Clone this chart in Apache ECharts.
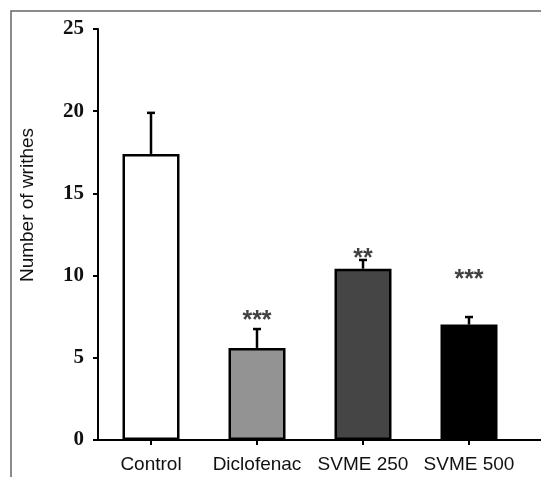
<!DOCTYPE html>
<html><head><meta charset="utf-8">
<script src="https://cdn.jsdelivr.net/npm/echarts@6/dist/echarts.min.js"></script>
<style>html,body{margin:0;padding:0;background:#fff}#c{width:541px;height:477px}</style>
</head><body><div id="c"></div>
<script>
const categories = ['Control', 'Diclofenac', 'SVME 250', 'SVME 500'];
const means = [17.4, 5.6, 10.42, 7.02];
const errUpper = [19.9, 6.75, 10.95, 7.48];
const starLabels = ['', '***', '**', '***'];
const starY = [null, 7.22, 11.02, 9.7];
const barColors = ['#ffffff', '#939393', '#454545', '#000000'];
const yTicks = [0, 5, 10, 15, 20, 25];

const chart = echarts.init(document.getElementById('c'), null, {renderer: 'canvas'});
const option = {
  animation: false,
  backgroundColor: '#fff',
  grid: {left: 98, top: 29, width: 424, bottom: 37, containLabel: false},
  xAxis: {
    type: 'category', data: categories,
    axisLine: {lineStyle: {color: '#000', width: 2}},
    axisTick: {show: true, alignWithLabel: true, length: 5, lineStyle: {color: '#000', width: 2}},
    axisLabel: {interval: 0, fontFamily: 'Liberation Sans', fontSize: 19, color: '#111', margin: 15}
  },
  yAxis: {
    type: 'value', min: yTicks[0], max: yTicks[yTicks.length - 1], interval: 5,
    axisLine: {show: true, lineStyle: {color: '#000', width: 2}},
    axisTick: {show: true, length: 5, lineStyle: {color: '#000', width: 2}},
    splitLine: {show: false},
    axisLabel: {fontFamily: 'Liberation Serif', fontWeight: 'bold', fontSize: 21, color: '#111', margin: 14}
  },
  series: [
    {
      type: 'bar', barWidth: 57,
      data: means.map((v, i) => ({value: v, itemStyle: {color: barColors[i], borderColor: '#000', borderWidth: 2.5}})),
      z: 2
    },
    {
      type: 'custom', z: 1,
      data: means.map((v, i) => [i, v, errUpper[i]]),
      renderItem: function (params, api) {
        const lo = api.coord([api.value(0), api.value(1)]);
        const hi = api.coord([api.value(0), api.value(2)]);
        const w = 4;
        return {type: 'group', children: [
          {type: 'line', shape: {x1: lo[0], y1: lo[1], x2: hi[0], y2: hi[1]}, style: {stroke: '#000', lineWidth: 2.5}},
          {type: 'line', shape: {x1: hi[0] - w, y1: hi[1], x2: hi[0] + w, y2: hi[1]}, style: {stroke: '#000', lineWidth: 2.5}}
        ]};
      }
    },
    {
      type: 'scatter', symbolSize: 0, z: 3,
      data: starY.map((v, i) => v == null ? null : [i, v]),
      label: {show: true, position: 'inside', formatter: p => starLabels[p.dataIndex],
        fontFamily: 'Liberation Sans', fontWeight: 'bold', fontSize: 25, color: '#111'}
    }
  ],
  graphic: [
    {type: 'rect', shape: {x: 11, y: 11, width: 700, height: 700}, style: {fill: 'none', stroke: '#666', lineWidth: 1.5}, z: 0, silent: true},
    {type: 'text', x: 28, y: 205, rotation: Math.PI / 2,
      style: {text: 'Number of writhes', font: '19px "Liberation Sans"', fill: '#111', textAlign: 'center', textVerticalAlign: 'middle'}}
  ]
};
chart.setOption(option);
const p0 = chart.convertToPixel({gridIndex: 0}, [categories.length - 1, 0]);
const right = 541 - 19;
chart.setOption({graphic: [
  option.graphic[0], option.graphic[1],
  {type: 'line', shape: {x1: right - 1, y1: p0[1], x2: 541, y2: p0[1]}, style: {stroke: '#000', lineWidth: 2}}
]});
</script>
</body></html>
